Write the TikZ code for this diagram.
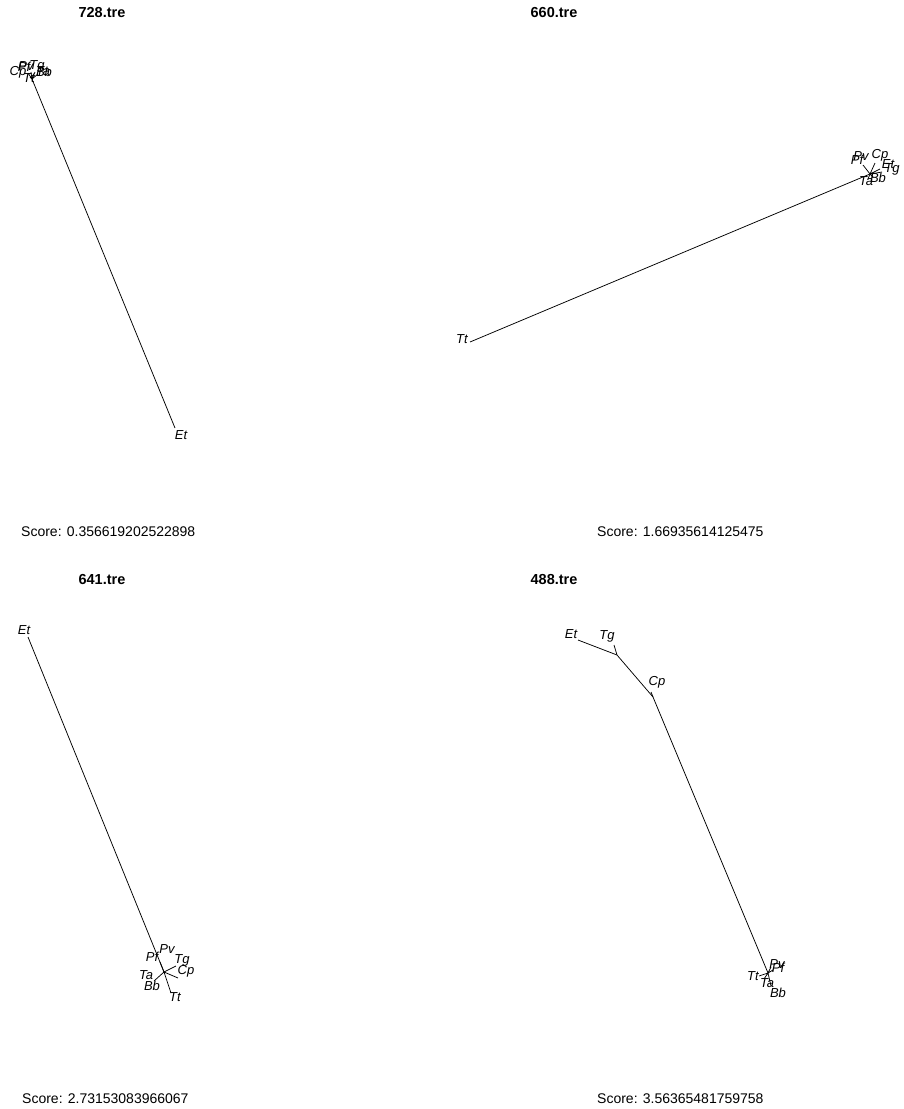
\documentclass[tikz,border=0pt]{standalone}
\usepackage{fontspec}
\setmainfont{Liberation Sans}
\begin{document}
\begin{tikzpicture}[x=1pt,y=-1pt,
  title/.style={font=\fontsize{14.5}{16}\selectfont\bfseries, inner sep=0pt},
  score/.style={font=\fontsize{14}{16}\selectfont, inner sep=0pt, anchor=west},
  tip/.style={font=\fontsize{13}{15}\selectfont\itshape, inner sep=0pt},
  br/.style={line width=0.75pt, black}]
\fill[white] (0,0) rectangle (903,1109);
\useasboundingbox (0,0) rectangle (903,1109);
% ---------- Panel 1 ----------
\node[title] (t1) at (102,12.5) {728.tre};
\node[score] (s1) at (21,532) {Score: 0.356619202522898};
\coordinate (h1) at (32,79);
\coordinate (e1) at (175,428);
\node[tip] (Et1) at (181,435) {Et};
\node[tip] (Cp1) at (18,72) {Cp};
\node[tip] (Pf1) at (24,67) {Pf};
\node[tip] (Pv1) at (26,66) {Pv};
\node[tip] (Tg1) at (37,66) {Tg};
\node[tip] (Ta1) at (43,71) {Ta};
\node[tip] (Bb1) at (44,72) {Bb};
\node[tip] (Tt1) at (29,78) {Tt};
\draw[br] (h1) -- (e1);
\draw[br] (h1) -- (28,73) (h1) -- (31,72) (h1) -- (35,72) (h1) -- (38,74) (h1) -- (30,77);
% ---------- Panel 2 ----------
\node[title] (t2) at (554,12.5) {660.tre};
\node[score] (s2) at (597,532) {Score: 1.66935614125475};
\coordinate (h2) at (870,174);
\coordinate (e2) at (470,342);
\node[tip] (Tt2) at (462,339) {Tt};
\node[tip] (Pv2) at (861,156) {Pv};
\node[tip] (Pf2) at (857,160) {Pf};
\node[tip] (Cp2) at (880,155) {Cp};
\node[tip] (Et2) at (888,164) {Et};
\node[tip] (Tg2) at (892,169) {Tg};
\node[tip] (Ta2) at (866,181) {Ta};
\node[tip] (Bb2) at (878,178) {Bb};
\draw[br] (h2) -- (e2);
\draw[br] (h2) -- (863,165) (h2) -- (875,163) (h2) -- (880,169) (h2) -- (882,172) (h2) -- (868,179) (h2) -- (873,177);
% ---------- Panel 3 ----------
\node[title] (t3) at (102,579) {641.tre};
\node[score] (s3) at (22,1099) {Score: 2.73153083966067};
\coordinate (h3) at (164,972);
\coordinate (e3) at (28,637);
\node[tip] (Et3) at (24,630) {Et};
\node[tip] (Pv3) at (167,949) {Pv};
\node[tip] (Pf3) at (152,957) {Pf};
\node[tip] (Tg3) at (182,960) {Tg};
\node[tip] (Cp3) at (186,971) {Cp};
\node[tip] (Ta3) at (146,975) {Ta};
\node[tip] (Bb3) at (152,986) {Bb};
\node[tip] (Tt3) at (175,997) {Tt};
\draw[br] (h3) -- (e3);
\draw[br] (h3) -- (160,962) (h3) -- (176,966) (h3) -- (178,978) (h3) -- (154,981) (h3) -- (171,993);
% ---------- Panel 4 ----------
\node[title] (t4) at (554,579) {488.tre};
\node[score] (s4) at (597,1099) {Score: 3.56365481759758};
\coordinate (e4) at (578,640);
\coordinate (n41) at (617,655);
\coordinate (n42) at (653,697);
\coordinate (n43) at (768,973);
\node[tip] (Et4) at (571,634) {Et};
\node[tip] (Tg4) at (607,636) {Tg};
\node[tip] (Cp4) at (657,682) {Cp};
\node[tip] (Pv4) at (777,964) {Pv};
\node[tip] (Pf4) at (778,968) {Pf};
\node[tip] (Tt4) at (753,976) {Tt};
\node[tip] (Ta4) at (767,983) {Ta};
\node[tip] (Bb4) at (778,993) {Bb};
\draw[br] (e4) -- (n41) -- (n42) -- (n43);
\draw[br] (n41) -- (614,645) (n42) -- (651,692);
\draw[br] (n43) -- (771,967) (n43) -- (773,970) (n43) -- (759,976) (n43) -- (764,979) (n43) -- (771,986);
\end{tikzpicture}
\end{document}
